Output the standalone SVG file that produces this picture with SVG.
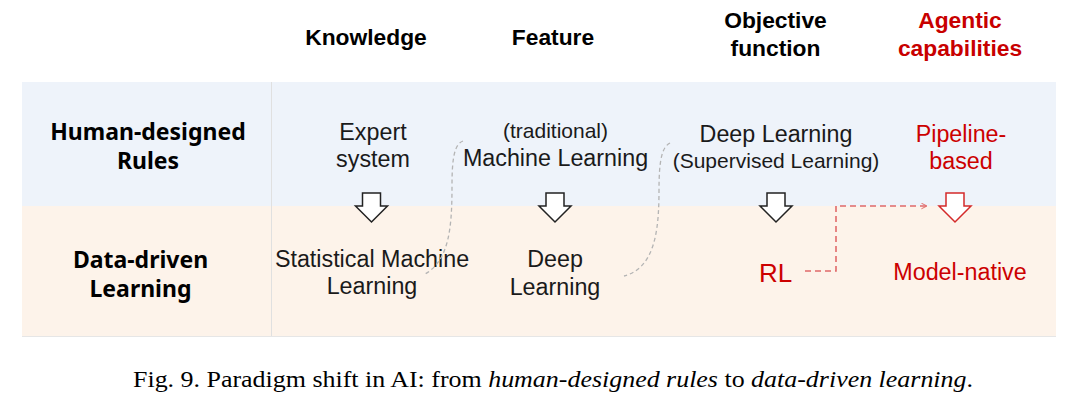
<svg xmlns="http://www.w3.org/2000/svg" width="1080" height="411" viewBox="0 0 1080 411">
<style>
.hdr{font-family:"Liberation Sans",Arial,sans-serif;font-weight:bold;font-size:22.8px;text-anchor:middle;fill:#000}
.hdr.red{fill:#c80000}
.row{font-family:"Noto Sans","Open Sans",sans-serif;font-weight:bold;font-size:23px;text-anchor:middle;fill:#000}
.t{font-family:"Liberation Sans",Arial,sans-serif;font-size:23.3px;text-anchor:middle;fill:#1a1a1a}
.s{font-size:21px}
.red{fill:#cc0000}
.cap{font-family:"Liberation Serif","DejaVu Serif",serif;font-size:23px;fill:#000}
.barrow{fill:#fff;stroke:#222;stroke-width:1.5;stroke-linejoin:miter}
.rarrow{fill:#fff;stroke:#d42a2a;stroke-width:1.5}
.gcurve{fill:none;stroke:#b4b4b4;stroke-width:1.3;stroke-dasharray:4 3}
.rdash{fill:none;stroke:#e06a6a;stroke-width:1.6;stroke-dasharray:6 4}
</style>
<defs>
<marker id="chev" viewBox="0 0 10 10" refX="9" refY="5" markerWidth="7" markerHeight="7" markerUnits="userSpaceOnUse" orient="auto">
<path d="M1,1 L9,5 L1,9" fill="none" stroke="#e06a6a" stroke-width="1.4"/>
</marker>
</defs>
<rect width="1080" height="411" fill="#fff"/>
<g id="panel">
<rect x="22" y="82" width="1034" height="124" fill="#eef3fa"/>
<rect x="22" y="206" width="1034" height="130" fill="#fdf3ea"/>
<line x1="22" y1="336.5" x2="1056" y2="336.5" stroke="#e6e6e6" stroke-width="1"/>
<line x1="271.5" y1="82" x2="271.5" y2="336" stroke="#e0e0e0" stroke-width="1"/>
</g>
<g id="headers">
<text class="hdr" x="366" y="45">Knowledge</text>
<text class="hdr" x="553" y="45">Feature</text>
<text class="hdr" x="775.5" y="28">Objective</text>
<text class="hdr" x="775.5" y="56">function</text>
<text class="hdr red" x="960" y="28">Agentic</text>
<text class="hdr red" x="960" y="56">capabilities</text>
</g>
<g id="row-human">
<text class="row" x="148" y="140">Human-designed</text>
<text class="row" x="148" y="169">Rules</text>
</g>
<g id="row-data">
<text class="row" x="140.5" y="267.5">Data-driven</text>
<text class="row" x="140.5" y="296.5">Learning</text>
</g>
<g id="expert-system">
<text class="t" x="373" y="140">Expert</text>
<text class="t" x="373" y="167">system</text>
</g>
<g id="traditional-ml">
<text class="t s" x="555.5" y="138">(traditional)</text>
<text class="t" x="555.5" y="166">Machine Learning</text>
</g>
<g id="deep-learning-sup">
<text class="t" x="776" y="141.7">Deep Learning</text>
<text class="t s" x="776" y="168">(Supervised Learning)</text>
</g>
<g id="pipeline-based">
<text class="t red" x="961" y="141.7">Pipeline-</text>
<text class="t red" x="961" y="169">based</text>
</g>
<g id="statistical-ml">
<text class="t" x="372" y="266.7">Statistical Machine</text>
<text class="t" x="372" y="294.3">Learning</text>
</g>
<g id="deep-learning">
<text class="t" x="555" y="266.7">Deep</text>
<text class="t" x="555" y="295">Learning</text>
</g>
<g id="rl">
<text class="t red" x="775.5" y="281.7" style="font-size:26px">RL</text>
</g>
<g id="model-native">
<text class="t red" x="960" y="280">Model-native</text>
</g>
<g id="connectors">
<path class="barrow" d="M362.5,193 H380.5 V206 H387.5 L371.5,222 L355.5,206 H362.5 Z"/>
<path class="barrow" d="M546,193 H564 V206 H571 L555,222 L539,206 H546 Z"/>
<path class="barrow" d="M767,193 H785 V206 H792 L776,222 L760,206 H767 Z"/>
<path class="rarrow" d="M946,193 H964 V206 H971 L955,222 L939,206 H946 Z"/>
<path class="gcurve" d="M463,141 C455,144 452,156 452,185 C452,225 450,262 423,275"/>
<path class="gcurve" d="M670,143 C662,147 659,160 659,190 C659,230 655,268 624,276"/>
<path class="rdash" d="M805,271 H836 V206 H927" marker-end="url(#chev)"/>
</g>
<g id="caption">
<text class="cap" x="133" y="387" textLength="840" lengthAdjust="spacingAndGlyphs">Fig. 9.  Paradigm shift in AI: from <tspan font-style="italic">human-designed rules</tspan> to <tspan font-style="italic">data-driven learning</tspan>.</text>
</g>
</svg>
